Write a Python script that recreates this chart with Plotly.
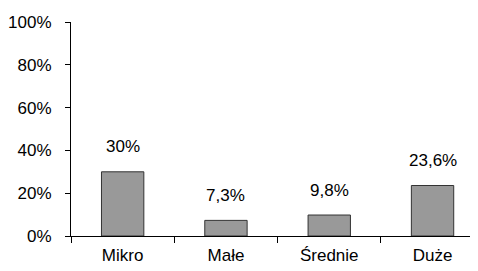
import plotly.graph_objects as go

categories = ["Mikro", "Małe", "Średnie", "Duże"]
values = [30.0, 7.3, 9.8, 23.6]
labels = ["30%", "7,3%", "9,8%", "23,6%"]
y_ticks = [0, 20, 40, 60, 80, 100]
y_tick_text = ["0%", "20%", "40%", "60%", "80%", "100%"]

FONT = "Liberation Sans, Arial, sans-serif"
FS = 17

fig = go.Figure()
fig.add_trace(go.Bar(
    x=categories, y=values,
    marker=dict(color="#999999", line=dict(color="#333333", width=1)),
    width=0.41,
    hoverinfo="skip",
))
for c, v, t in zip(categories, values, labels):
    fig.add_annotation(x=c, y=v, text=t, showarrow=False, yshift=25,
                       font=dict(family=FONT, size=FS, color="#000000"))

fig.update_layout(
    width=470, height=263,
    margin=dict(l=63, r=0, t=14, b=35, autoexpand=False),
    paper_bgcolor="white", plot_bgcolor="white",
    showlegend=False,
    font=dict(family=FONT, size=FS, color="#000000"),
)
fig.update_xaxes(
    type="category", range=[-0.5, 3.44], automargin=False,
    showline=True, linecolor="#000000", linewidth=1,
    ticks="outside", ticklen=6, tickcolor="#000000", tickson="boundaries",
    ticklabelstandoff=4,
    showgrid=False, zeroline=False,
    tickfont=dict(family=FONT, size=FS, color="#000000"),
)
fig.update_yaxes(
    range=[0, 100], tickvals=y_ticks, ticktext=y_tick_text, automargin=False,
    showline=True, linecolor="#000000", linewidth=1,
    ticks="outside", ticklen=5, tickcolor="#000000",
    ticklabelstandoff=10,
    showgrid=False, zeroline=False,
    tickfont=dict(family=FONT, size=FS, color="#000000"),
)
fig.write_html("out.html")
